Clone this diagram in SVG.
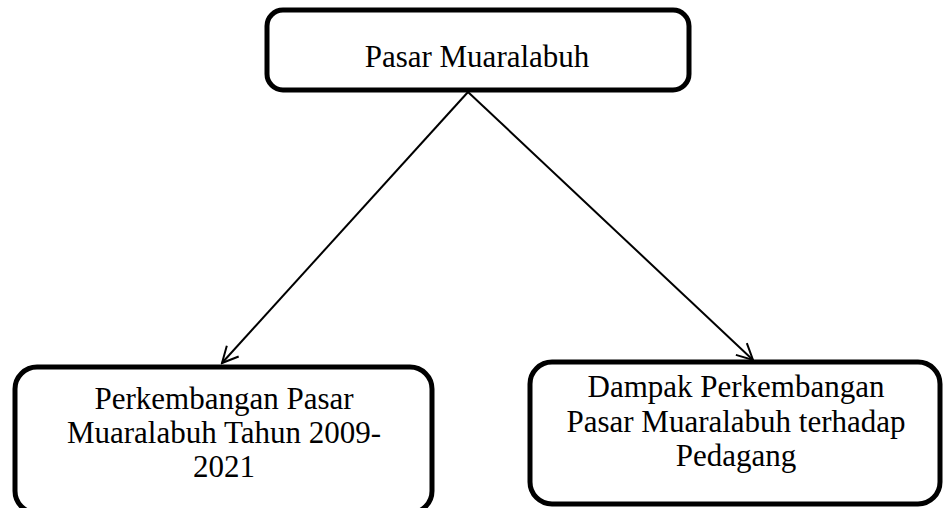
<svg xmlns="http://www.w3.org/2000/svg" width="943" height="508" viewBox="0 0 943 508">
<defs>
<style>
.box{fill:#fff;stroke:#000;stroke-width:5}
.lbl{font-family:"Liberation Serif","Times New Roman",serif;font-size:31px;fill:#000;text-anchor:middle}
.conn{stroke:#000;stroke-width:2;fill:none}
</style>
<marker id="arr" viewBox="0 0 20 20" refX="18" refY="10" markerWidth="20" markerHeight="20" markerUnits="userSpaceOnUse" orient="auto">
<path d="M2,2 L18,10 L2,18" fill="none" stroke="#000" stroke-width="2"/>
</marker>
</defs>
<rect width="943" height="508" fill="#fff"/>
<g id="connectors">
<line class="conn" x1="468" y1="92" x2="222" y2="363" marker-end="url(#arr)"/>
<line class="conn" x1="468" y1="92" x2="753" y2="360" marker-end="url(#arr)"/>
</g>
<g id="node-top">
<rect class="box" x="267" y="10" width="422" height="80" rx="16"/>
<text class="lbl" x="477" y="67">Pasar Muaralabuh</text>
</g>
<g id="node-left">
<rect class="box" x="15" y="367" width="417" height="146" rx="22"/>
<text class="lbl" x="224" y="409">Perkembangan Pasar</text>
<text class="lbl" x="224" y="443">Muaralabuh Tahun 2009-</text>
<text class="lbl" x="224" y="477">2021</text>
</g>
<g id="node-right">
<rect class="box" x="530" y="362" width="410" height="142" rx="22"/>
<text class="lbl" x="736" y="397">Dampak Perkembangan</text>
<text class="lbl" x="736" y="432">Pasar Muaralabuh terhadap</text>
<text class="lbl" x="736" y="466">Pedagang</text>
</g>
</svg>
